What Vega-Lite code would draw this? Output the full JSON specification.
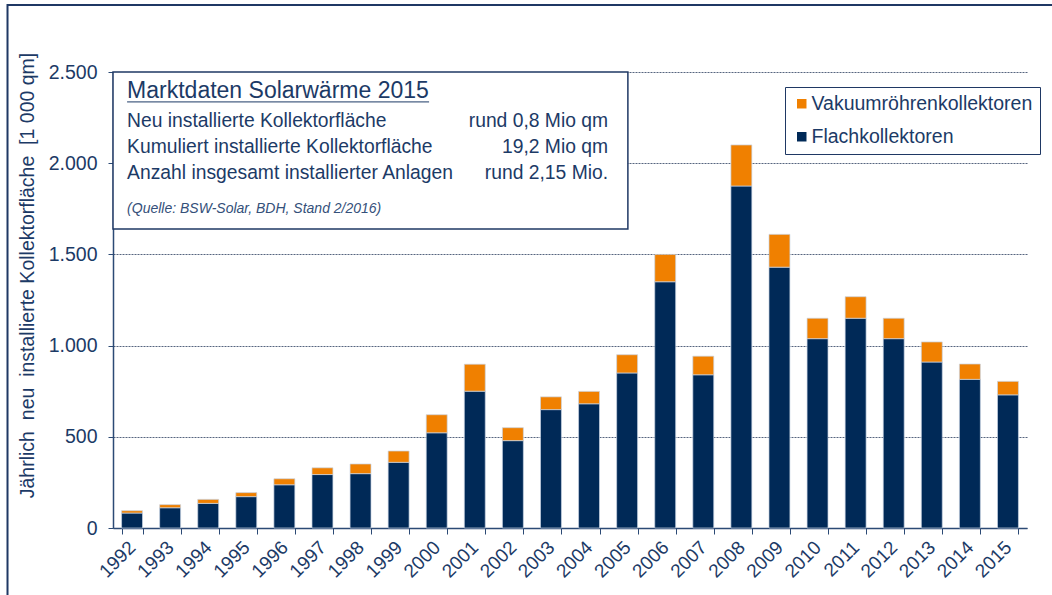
{
  "$schema": "https://vega.github.io/schema/vega-lite/v6.json",
  "width": 914,
  "height": 456,
  "autosize": {"type": "none"},
  "padding": {"left": 113, "top": 72, "right": 25, "bottom": 67},
  "background": "white",
  "config": {
    "view": {"stroke": null},
    "font": "Liberation Sans",
    "text": {"font": "Liberation Sans"}
  },
  "datasets": {
    "bars": [
      {"year": 1992, "type": "Flachkollektoren", "value": 82},
      {"year": 1992, "type": "Vakuumröhrenkollektoren", "value": 13},
      {"year": 1993, "type": "Flachkollektoren", "value": 111},
      {"year": 1993, "type": "Vakuumröhrenkollektoren", "value": 17},
      {"year": 1994, "type": "Flachkollektoren", "value": 135},
      {"year": 1994, "type": "Vakuumröhrenkollektoren", "value": 22},
      {"year": 1995, "type": "Flachkollektoren", "value": 172},
      {"year": 1995, "type": "Vakuumröhrenkollektoren", "value": 22},
      {"year": 1996, "type": "Flachkollektoren", "value": 237},
      {"year": 1996, "type": "Vakuumröhrenkollektoren", "value": 33},
      {"year": 1997, "type": "Flachkollektoren", "value": 293},
      {"year": 1997, "type": "Vakuumröhrenkollektoren", "value": 37},
      {"year": 1998, "type": "Flachkollektoren", "value": 298},
      {"year": 1998, "type": "Vakuumröhrenkollektoren", "value": 53},
      {"year": 1999, "type": "Flachkollektoren", "value": 360},
      {"year": 1999, "type": "Vakuumröhrenkollektoren", "value": 62},
      {"year": 2000, "type": "Flachkollektoren", "value": 522},
      {"year": 2000, "type": "Vakuumröhrenkollektoren", "value": 99},
      {"year": 2001, "type": "Flachkollektoren", "value": 750},
      {"year": 2001, "type": "Vakuumröhrenkollektoren", "value": 148},
      {"year": 2002, "type": "Flachkollektoren", "value": 479},
      {"year": 2002, "type": "Vakuumröhrenkollektoren", "value": 71},
      {"year": 2003, "type": "Flachkollektoren", "value": 649},
      {"year": 2003, "type": "Vakuumröhrenkollektoren", "value": 70},
      {"year": 2004, "type": "Flachkollektoren", "value": 681},
      {"year": 2004, "type": "Vakuumröhrenkollektoren", "value": 68},
      {"year": 2005, "type": "Flachkollektoren", "value": 850},
      {"year": 2005, "type": "Vakuumröhrenkollektoren", "value": 100},
      {"year": 2006, "type": "Flachkollektoren", "value": 1350},
      {"year": 2006, "type": "Vakuumröhrenkollektoren", "value": 150},
      {"year": 2007, "type": "Flachkollektoren", "value": 840},
      {"year": 2007, "type": "Vakuumröhrenkollektoren", "value": 102},
      {"year": 2008, "type": "Flachkollektoren", "value": 1875},
      {"year": 2008, "type": "Vakuumröhrenkollektoren", "value": 225},
      {"year": 2009, "type": "Flachkollektoren", "value": 1430},
      {"year": 2009, "type": "Vakuumröhrenkollektoren", "value": 180},
      {"year": 2010, "type": "Flachkollektoren", "value": 1038},
      {"year": 2010, "type": "Vakuumröhrenkollektoren", "value": 112},
      {"year": 2011, "type": "Flachkollektoren", "value": 1150},
      {"year": 2011, "type": "Vakuumröhrenkollektoren", "value": 118},
      {"year": 2012, "type": "Flachkollektoren", "value": 1038},
      {"year": 2012, "type": "Vakuumröhrenkollektoren", "value": 112},
      {"year": 2013, "type": "Flachkollektoren", "value": 910},
      {"year": 2013, "type": "Vakuumröhrenkollektoren", "value": 110},
      {"year": 2014, "type": "Flachkollektoren", "value": 815},
      {"year": 2014, "type": "Vakuumröhrenkollektoren", "value": 84},
      {"year": 2015, "type": "Flachkollektoren", "value": 730},
      {"year": 2015, "type": "Vakuumröhrenkollektoren", "value": 74}
    ]
  },
  "layer": [
    {
      "data": {"values": [{"x0": 1988.73, "x1": 2016.6, "y0": -600, "y1": 2867}]},
      "mark": {"type": "rect", "fill": null, "stroke": "#1f3864", "strokeWidth": 2},
      "encoding": {
        "x": {"field": "x0", "type": "quantitative", "scale": {"domain": [1991.5, 2015.5], "nice": false, "zero": false}, "axis": null},
        "x2": {"field": "x1"},
        "y": {"field": "y0", "type": "quantitative", "scale": {"domain": [0, 2500], "nice": false}, "axis": null},
        "y2": {"field": "y1"}
      }
    },
    {
      "data": {"name": "bars"},
      "mark": {"type": "bar", "stroke": "#c9d4e4", "strokeWidth": 0.7},
      "encoding": {
        "x": {
          "field": "year", "type": "ordinal",
          "scale": {"paddingInner": 0.45, "paddingOuter": 0.225},
          "axis": {
            "title": null,
            "tickBand": "extent",
            "labelAngle": -45,
            "labelAlign": "right",
            "labelBaseline": "middle",
            "labelFontSize": 19,
            "labelColor": "#1c3a66",
            "labelPadding": 10,
            "tickSize": 6,
            "tickColor": "#2c4a75",
            "domainColor": "#2c4a75",
            "domainWidth": 1.5,
            "labelOverlap": false,
            "labelFlush": false
          }
        },
        "y": {
          "field": "value", "type": "quantitative", "stack": "zero",
          "scale": {"domain": [0, 2500], "nice": false},
          "axis": {
            "title": "Jährlich\u00a0 neu\u00a0 installierte Kollektorfläche\u00a0 [1 000 qm]",
            "titleFontSize": 19.5,
            "titleFontWeight": "normal",
            "titleColor": "#1c3a66",
            "titleAnchor": "middle",
            "titleY": 203,
            "titleX": -80,
            "titleBaseline": "alphabetic",
            "titleLimit": 600,
            "values": [0, 500, 1000, 1500, 2000, 2500],
            "labelExpr": "replace(format(datum.value, ','), ',', '.')",
            "labelFontSize": 19.5,
            "labelColor": "#1c3a66",
            "labelPadding": 11,
            "tickSize": 5,
            "tickColor": "#2c4a75",
            "domainColor": "#2c4a75",
            "domainWidth": 1.5,
            "grid": true,
            "gridColor": "#56657f",
            "gridDash": [2, 1],
            "gridWidth": 1
          }
        },
        "color": {
          "field": "type", "type": "nominal",
          "scale": {"domain": ["Vakuumröhrenkollektoren", "Flachkollektoren"], "range": ["#F08000", "#002957"]},
          "legend": {
            "orient": "none",
            "legendX": 672,
            "legendY": 15,
            "title": null,
            "direction": "vertical",
            "strokeColor": "#1f3864",
            "fillColor": "white",
            "padding": 7,
            "symbolType": "square",
            "symbolSize": 90,
            "symbolStrokeWidth": 0,
            "labelFontSize": 19.5,
            "labelLimit": 400,
            "labelColor": "#1c3a66",
            "labelOffset": 0,
            "rowPadding": 12
          }
        },
        "order": {"field": "type", "sort": "ascending"}
      }
    },
    {
      "data": {"values": [{"x0": 1991.5, "x1": 2005.02, "y0": 1639, "y1": 2500}]},
      "mark": {"type": "rect", "fill": "white", "stroke": "#1f3864", "strokeWidth": 1.5},
      "encoding": {
        "x": {"field": "x0", "type": "quantitative", "scale": {"domain": [1991.5, 2015.5], "nice": false, "zero": false}, "axis": null},
        "x2": {"field": "x1"},
        "y": {"field": "y0", "type": "quantitative", "scale": {"domain": [0, 2500], "nice": false}, "axis": null},
        "y2": {"field": "y1"}
      }
    },
    {
      "data": {"values": [{"tx": 1991.87, "ty": 2356, "label": "Marktdaten Solarwärme 2015"}]},
      "mark": {"type": "text", "align": "left", "baseline": "alphabetic", "fontSize": 23, "color": "#1c3a66"},
      "encoding": {
        "x": {"field": "tx", "type": "quantitative", "scale": {"domain": [1991.5, 2015.5], "nice": false, "zero": false}, "axis": null},
        "y": {"field": "ty", "type": "quantitative", "scale": {"domain": [0, 2500], "nice": false}, "axis": null},
        "text": {"field": "label"}
      }
    },
    {
      "data": {"values": [{"x0": 1991.87, "x1": 1999.8, "yy": 2336}]},
      "mark": {"type": "rule", "color": "#1c3a66", "strokeWidth": 1},
      "encoding": {
        "x": {"field": "x0", "type": "quantitative", "scale": {"domain": [1991.5, 2015.5], "nice": false, "zero": false}, "axis": null},
        "x2": {"field": "x1"},
        "y": {"field": "yy", "type": "quantitative", "scale": {"domain": [0, 2500], "nice": false}, "axis": null}
      }
    },
    {
      "data": {"values": [
        {"tx": 1991.87, "ty": 2200, "label": "Neu installierte Kollektorfläche"},
        {"tx": 1991.87, "ty": 2054, "label": "Kumuliert installierte Kollektorfläche"},
        {"tx": 1991.87, "ty": 1912, "label": "Anzahl insgesamt installierter Anlagen"}
      ]},
      "mark": {"type": "text", "align": "left", "baseline": "alphabetic", "fontSize": 19.3, "color": "#1c3a66"},
      "encoding": {
        "x": {"field": "tx", "type": "quantitative", "scale": {"domain": [1991.5, 2015.5], "nice": false, "zero": false}, "axis": null},
        "y": {"field": "ty", "type": "quantitative", "scale": {"domain": [0, 2500], "nice": false}, "axis": null},
        "text": {"field": "label"}
      }
    },
    {
      "data": {"values": [
        {"tx": 2004.5, "ty": 2200, "label": "rund 0,8 Mio qm"},
        {"tx": 2004.5, "ty": 2054, "label": "19,2 Mio qm"},
        {"tx": 2004.5, "ty": 1912, "label": "rund 2,15 Mio."}
      ]},
      "mark": {"type": "text", "align": "right", "baseline": "alphabetic", "fontSize": 19.3, "color": "#1c3a66"},
      "encoding": {
        "x": {"field": "tx", "type": "quantitative", "scale": {"domain": [1991.5, 2015.5], "nice": false, "zero": false}, "axis": null},
        "y": {"field": "ty", "type": "quantitative", "scale": {"domain": [0, 2500], "nice": false}, "axis": null},
        "text": {"field": "label"}
      }
    },
    {
      "data": {"values": [{"tx": 1991.87, "ty": 1725, "label": "(Quelle: BSW-Solar, BDH, Stand 2/2016)"}]},
      "mark": {"type": "text", "align": "left", "baseline": "alphabetic", "fontSize": 14, "fontStyle": "italic", "color": "#34507a"},
      "encoding": {
        "x": {"field": "tx", "type": "quantitative", "scale": {"domain": [1991.5, 2015.5], "nice": false, "zero": false}, "axis": null},
        "y": {"field": "ty", "type": "quantitative", "scale": {"domain": [0, 2500], "nice": false}, "axis": null},
        "text": {"field": "label"}
      }
    }
  ],
  "resolve": {
    "scale": {"x": "independent", "y": "independent"},
    "axis": {"x": "independent", "y": "independent"}
  }
}
